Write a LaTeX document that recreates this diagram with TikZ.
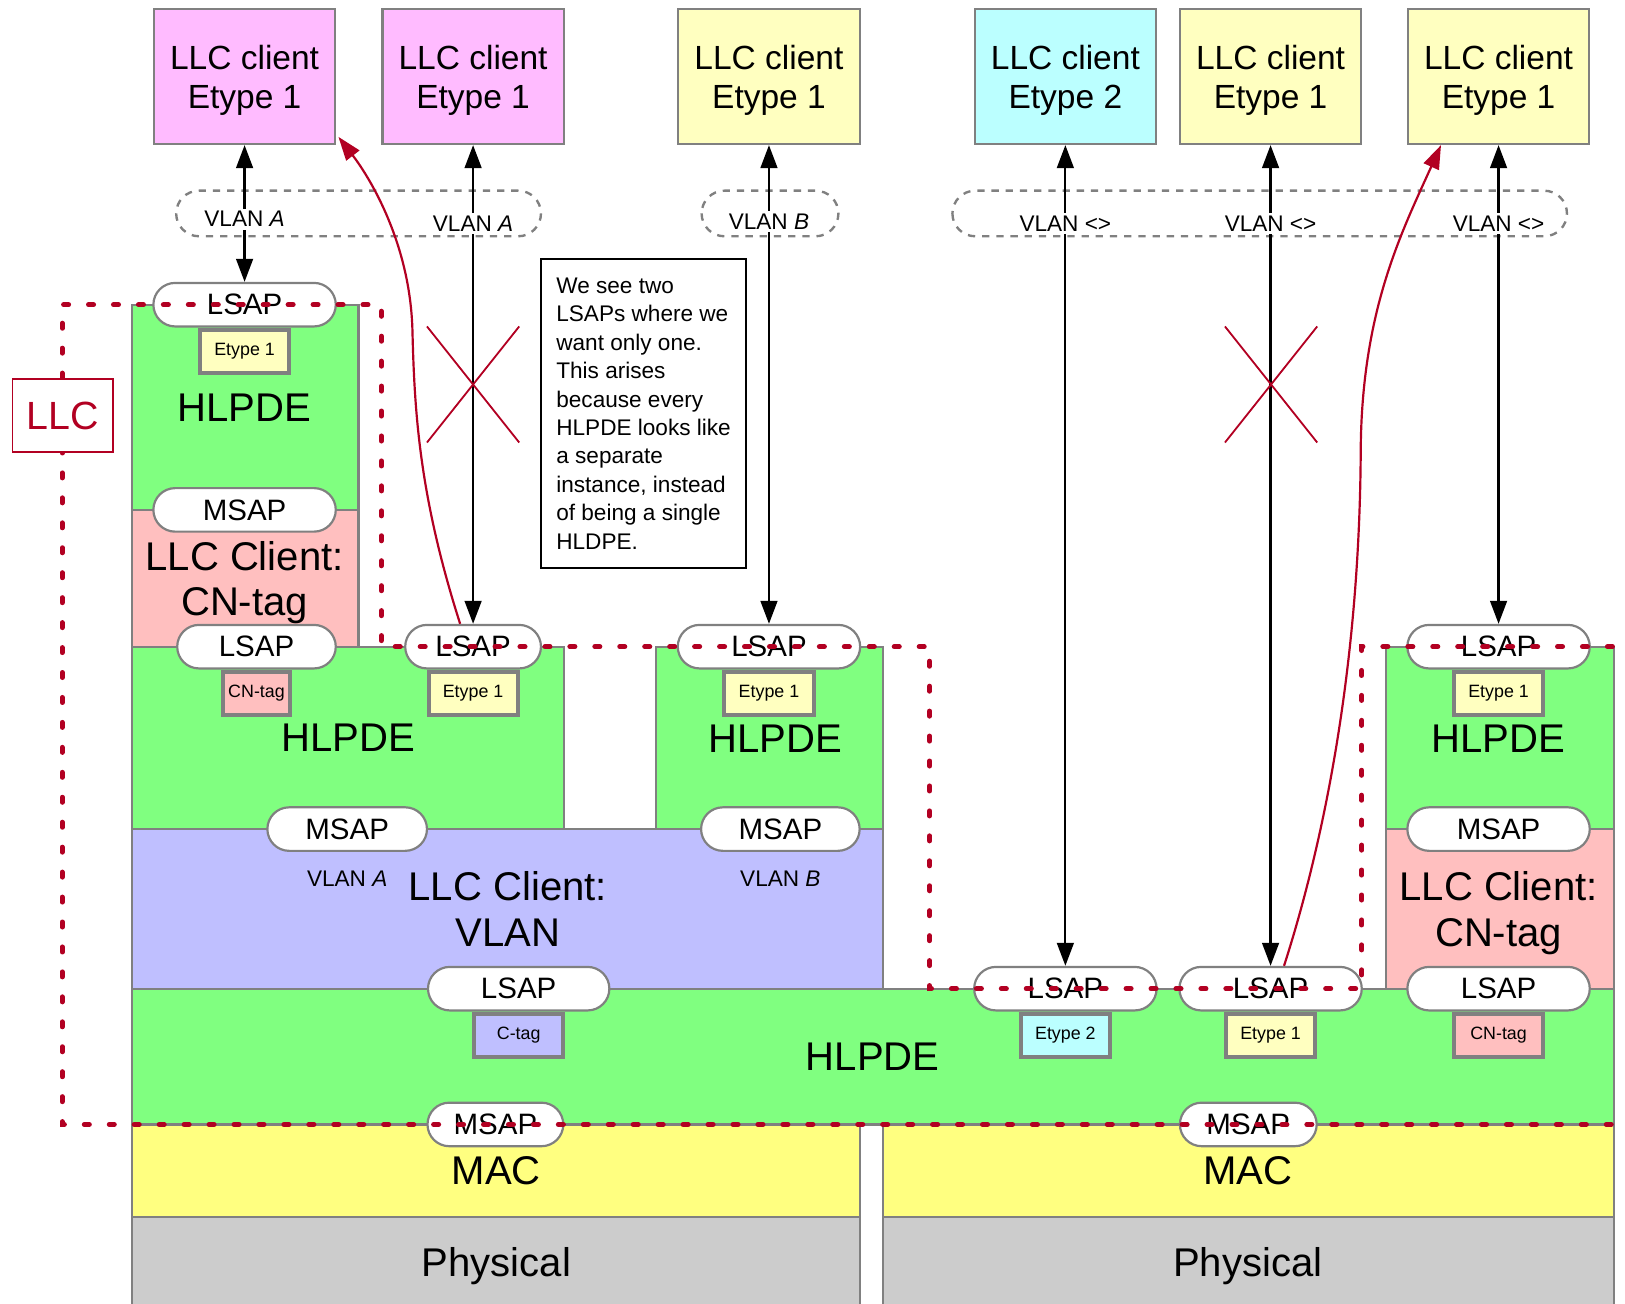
\documentclass[tikz,border=0pt]{standalone}
\usepackage{fontspec}
\setmainfont{Liberation Sans}
\usetikzlibrary{positioning,arrows.meta}

\begin{document}
\begin{tikzpicture}[
		x=0.1mm,
		y=-0.1mm,
		tang/.style={draw=MauVien,line width=0.6pt},
		chu/.style={font=\fontsize{11}{12.5}\selectfont,align=center,inner sep=0pt},
		khach/.style={draw=MauVien,line width=0.6pt,minimum width=17.5mm,minimum height=13mm,
			align=center,text depth=0pt,font=\fontsize{9.2}{10.6}\selectfont},
		sap/.style={draw=MauVien,fill=white,line width=0.6pt,rounded corners=2.1mm,
			minimum height=4.2mm,inner sep=0pt,font=\fontsize{8.1}{9}\selectfont},
		nhan/.style={draw=MauVien,line width=1.1pt,minimum width=8.6mm,minimum height=4.2mm,
			inner sep=0pt,font=\fontsize{4.9}{6}\selectfont,below=0pt of #1},
		vlanchu/.style={font=\fontsize{6.2}{7}\selectfont,inner sep=0.8pt},
		vung/.style={draw=MauVien,line width=0.65pt,dash pattern=on 2pt off 1.9pt,rounded corners=2.2mm},
		muiten/.style={line width=0.6pt,>={Triangle[length=6.3pt,width=4.6pt]},<->},
		duongdo/.style={draw=MauDo,line width=0.6pt,>={Triangle[length=6.5pt,width=4.5pt]},->},
		bien/.style={draw=MauDo,line width=1.35pt,line cap=round,dash pattern=on 1.4pt off 5.45pt},
		ghichu/.style={draw=black,line width=0.6pt,align=left,minimum width=19.8mm,minimum height=29.8mm,
			font=\fontsize{6.2}{7.82}\selectfont}
	]
	% ===== MAU SAC =====
	\definecolor{MauHong}{RGB}{255,187,255}
	\definecolor{MauVang}{RGB}{255,255,192}
	\definecolor{MauLam}{RGB}{187,255,255}
	\definecolor{MauXanh}{RGB}{128,255,128}
	\definecolor{MauCN}{RGB}{255,191,191}
	\definecolor{MauVLAN}{RGB}{191,191,255}
	\definecolor{MauMAC}{RGB}{255,255,128}
	\definecolor{MauVatLy}{RGB}{204,204,204}
	\definecolor{MauVien}{RGB}{128,128,128}
	\definecolor{MauDo}{RGB}{178,0,34}

	\useasboundingbox (0,0) rectangle (1568,1258);
	\clip (0,0) rectangle (1568,1258);

	% ===== CAC TANG =====
	\draw[tang,fill=MauXanh] (127,294) rectangle (346,492);
	\draw[tang,fill=MauCN] (127,492) rectangle (346,624);
	\draw[tang,fill=MauXanh] (127,624) rectangle (544,800);
	\draw[tang,fill=MauXanh] (633,624) rectangle (852,800);
	\draw[tang,fill=MauVLAN] (127,800) rectangle (852,954);
	\draw[tang,fill=MauXanh] (1337,624) rectangle (1557,800);
	\draw[tang,fill=MauCN] (1337,800) rectangle (1557,954);
	\draw[tang,fill=MauXanh] (127,954) rectangle (1557,1085);
	\draw[tang,fill=MauMAC] (127,1085) rectangle (830,1174);
	\draw[tang,fill=MauMAC] (852,1085) rectangle (1557,1174);
	\draw[tang,fill=MauVatLy] (127,1174) rectangle (830,1290);
	\draw[tang,fill=MauVatLy] (852,1174) rectangle (1557,1290);

	\node[chu] (hlpdeA) at (236,393) {HLPDE};
	\node[chu] (cnA) at (236,562) {LLC Client:\\CN-tag};
	\node[chu] (hlpdeB) at (336,712) {HLPDE};
	\node[chu] (hlpdeC) at (748,713) {HLPDE};
	\node[chu] (vlanL) at (490,877) {LLC Client:\\VLAN};
	\node[vlanchu] (vlanA) at (335,848) {VLAN \textit{A}};
	\node[vlanchu] (vlanB) at (753,848) {VLAN \textit{B}};
	\node[chu] (hlpdeD) at (1446,713) {HLPDE};
	\node[chu] (cnB) at (1446,881) {LLC Client:\\CN-tag};
	\node[chu] (hlpdeE) at (842,1020) {HLPDE};
	\node[chu] (macA) at (479,1130) {MAC};
	\node[chu] (macB) at (1204,1130) {MAC};
	\node[chu] (phyA) at (479,1222) {Physical};
	\node[chu] (phyB) at (1204,1222) {Physical};

	% ===== LSAP / MSAP =====
	\node[sap,minimum width=17.6mm] (lsapA) at (236,294) {LSAP};
	\node[sap,minimum width=17.6mm] (msapA) at (236,492) {MSAP};
	\node[sap,minimum width=15.3mm] (lsapB) at (247.5,624) {LSAP};
	\node[sap,minimum width=13.1mm] (lsapC) at (456.5,624) {LSAP};
	\node[sap,minimum width=17.6mm] (lsapD) at (742,624) {LSAP};
	\node[sap,minimum width=15.4mm] (msapB) at (335,800) {MSAP};
	\node[sap,minimum width=15.3mm] (msapC) at (753,800) {MSAP};
	\node[sap,minimum width=17.5mm] (lsapE) at (500.5,954) {LSAP};
	\node[sap,minimum width=17.6mm] (lsapF) at (1028,954) {LSAP};
	\node[sap,minimum width=17.6mm] (lsapG) at (1226,954) {LSAP};
	\node[sap,minimum width=17.6mm] (lsapH) at (1446,954) {LSAP};
	\node[sap,minimum width=17.6mm] (lsapI) at (1446,624) {LSAP};
	\node[sap,minimum width=17.6mm] (msapD) at (1446,800) {MSAP};
	\node[sap,minimum width=13.1mm] (msapE) at (478,1085) {MSAP};
	\node[sap,minimum width=13.2mm] (msapF) at (1204.5,1085) {MSAP};

	% ===== NHAN =====
	\node[nhan=lsapA,fill=MauVang] (tagA) {Etype 1};
	\node[nhan=lsapB,fill=MauCN,minimum width=6.4mm] (tagB) {CN-tag};
	\node[nhan=lsapC,fill=MauVang] (tagC) {Etype 1};
	\node[nhan=lsapD,fill=MauVang] (tagD) {Etype 1};
	\node[nhan=lsapE,fill=MauVLAN] (tagE) {C-tag};
	\node[nhan=lsapF,fill=MauLam] (tagF) {Etype 2};
	\node[nhan=lsapG,fill=MauVang] (tagG) {Etype 1};
	\node[nhan=lsapH,fill=MauCN] (tagH) {CN-tag};
	\node[nhan=lsapI,fill=MauVang] (tagI) {Etype 1};

	% ===== LLC CLIENT =====
	\node[khach,fill=MauHong] (cliA) at (236,74) {LLC client\\Etype 1};
	\node[khach,fill=MauHong] (cliB) at (456.5,74) {LLC client\\Etype 1};
	\node[khach,fill=MauVang] (cliC) at (742,74) {LLC client\\Etype 1};
	\node[khach,fill=MauLam] (cliD) at (1028,74) {LLC client\\Etype 2};
	\node[khach,fill=MauVang] (cliE) at (1226,74) {LLC client\\Etype 1};
	\node[khach,fill=MauVang] (cliF) at (1446,74) {LLC client\\Etype 1};

	% ===== VLAN =====
	\draw[vung] (170,184) rectangle (522,228);
	\draw[vung] (677,184) rectangle (809,228);
	\draw[vung] (919,184) rectangle (1512,228);

	\draw[muiten] (cliA.south) -- (lsapA.north);
	\draw[muiten] (cliB.south) -- (lsapC.north);
	\draw[muiten] (cliC.south) -- (lsapD.north);
	\draw[muiten] (cliD.south) -- (lsapF.north);
	\draw[muiten] (cliE.south) -- (lsapG.north);
	\draw[muiten] (cliF.south) -- (lsapI.north);

	\node[vlanchu,fill=white] (vA1) at (236,211.5) {VLAN \textit{A}};
	\node[vlanchu,fill=white] (vA2) at (456.5,215.5) {VLAN \textit{A}};
	\node[vlanchu,fill=white] (vB1) at (742,214) {VLAN \textit{B}};
	\node[vlanchu,fill=white] (vX1) at (1028,215.5) {VLAN <>};
	\node[vlanchu,fill=white] (vX2) at (1226,215.5) {VLAN <>};
	\node[vlanchu,fill=white] (vX3) at (1446,215.5) {VLAN <>};

	% ===== GHI CHU =====
	\node[ghichu] (ghichu) at (621,399) {We see two\\LSAPs where we\\want only one.\\This arises\\because every\\HLPDE looks like\\a separate\\instance, instead\\of being a single\\HLDPE.};

	% ===== DAU X =====
	\foreach \cx in {456.5,1226.5}
		\draw[MauDo,line width=0.5pt] (\cx-44.5,315) -- (\cx+44.5,427) (\cx-44.5,427) -- (\cx+44.5,315);

	% ===== BIEN LLC =====
	\draw[bien] (1580,624) -- (1314,624) -- (1314,954) -- (897,954) -- (897,624) -- (368,624)
		-- (368,294) -- (60,294) -- (60,1085) -- (1580,1085);
	\node[draw=MauDo,fill=white,line width=0.5pt,text=MauDo,minimum width=9.7mm,minimum height=7mm,
		font=\fontsize{10.8}{12}\selectfont] (llc) at (60.5,401) {LLC};

	% ===== DUONG DO =====
	\draw[duongdo] ([xshift=-1.25mm]lsapC.north) .. controls (405,480) and (400,400) .. (398,320)
		.. controls (396,230) and (352,165) .. ([xshift=0.2mm,yshift=0.8mm]cliA.south east);
	\draw[duongdo] ([xshift=1.3mm]lsapG.north) .. controls (1275,820) and (1312,650) .. (1313,434)
		.. controls (1314,300) and (1352,225) .. ([xshift=3.3mm]cliF.south west);

\end{tikzpicture}
\end{document}
